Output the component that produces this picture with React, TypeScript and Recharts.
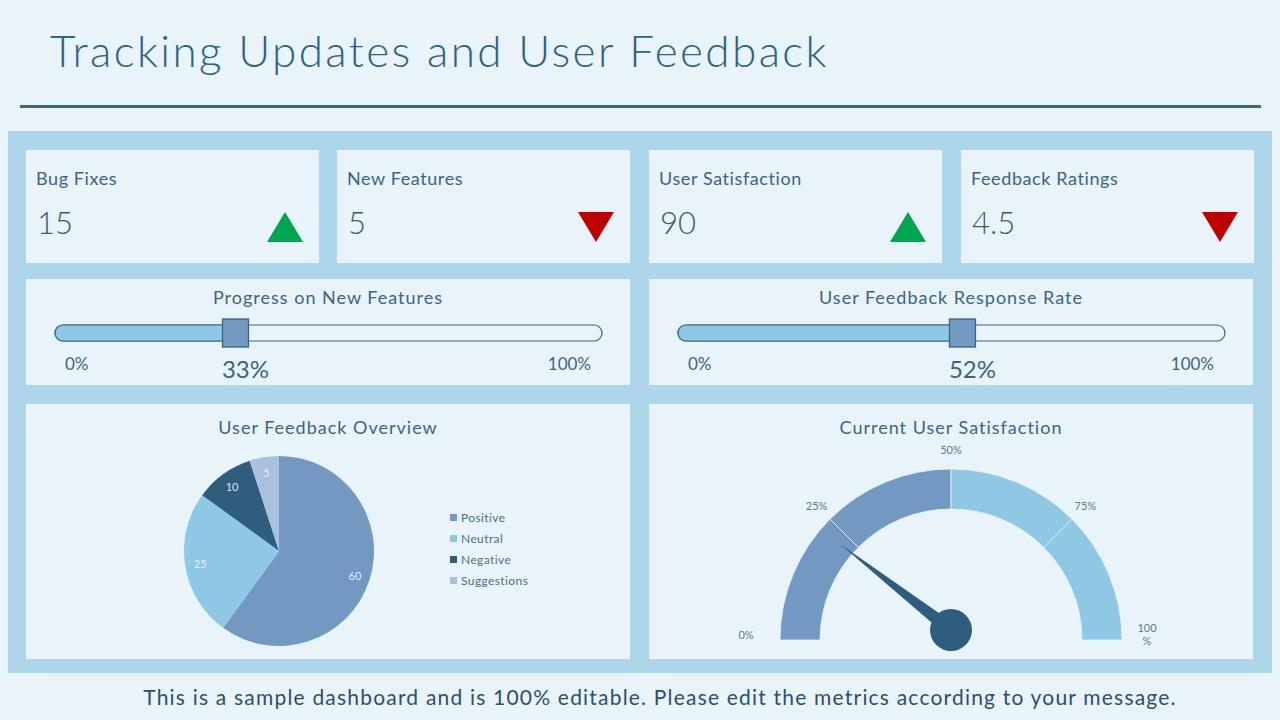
import { BarChart, Bar, XAxis, YAxis, PieChart, Pie, Cell, Legend, Rectangle } from "recharts";

const kpiLabels = ["Bug Fixes", "New Features", "User Satisfaction", "Feedback Ratings"];
const kpiValues = ["15", "5", "90", "4.5"];
const kpiTrends = ["up", "down", "up", "down"];

const progressTitles = ["Progress on New Features", "User Feedback Response Rate"];
const progressValues = [33, 52];

const feedbackCategories = ["Positive", "Neutral", "Negative", "Suggestions"];
const feedbackValues = [60, 25, 10, 5];

const gaugeBands = [25, 25, 25, 25];
const gaugeTicks = [0, 25, 50, 75, 100];
const gaugeTickLabels = ["0%", "25%", "50%", "75%", "100\n%"];
const needleValue = 21;

const FONT = "Lato, 'DejaVu Sans', sans-serif";
const BG = "#E8F3FA";
const PANEL = "#AED6EA";
const TEXT = "#3D6580";
const DARK = "#2F5D7E";
const MID = "#7399C2";
const LIGHT = "#8EC8E4";
const PALE = "#A9C1DC";
const feedbackColors = [MID, LIGHT, DARK, PALE];
const gaugeColors = [MID, MID, LIGHT, LIGHT];
const NO_MARGIN = { top: 0, right: 0, bottom: 0, left: 0 };

const card = (left: number, top: number, width: number, height: number): React.CSSProperties => ({
  position: "absolute",
  left,
  top,
  width,
  height,
  background: BG,
});

function Triangle({ dir }: { dir: string }) {
  return (
    <svg width={36} height={30} style={{ position: "absolute", right: 16, top: 62 }}>
      {dir === "up" ? (
        <polygon points="18,0 36,30 0,30" fill="#00A550" />
      ) : (
        <polygon points="0,0 36,0 18,30" fill="#C00000" />
      )}
    </svg>
  );
}

function ProgressHandle(props: any) {
  const { x, y, width, height } = props;
  const hx = x + width;
  return (
    <g>
      <Rectangle x={x} y={y} width={width} height={height} fill={LIGHT} stroke={TEXT} strokeWidth={1.2} radius={[8, 0, 0, 8]} />
      <rect x={hx - 13} y={y - 6} width={26} height={28} fill={MID} stroke={TEXT} strokeWidth={1.3} />
    </g>
  );
}

function ProgressCard({ left, title, value }: { left: number; title: string; value: number }) {
  const trackLeft = 29;
  const trackWidth = 547;
  return (
    <div style={card(left, 279, 604, 106)}>
      <div style={{ position: "absolute", top: 7, width: "100%", textAlign: "center", fontSize: 18, color: TEXT, letterSpacing: 1 }}>
        {title}
      </div>
      <div style={{ position: "absolute", left: 0, top: 34 }}>
        <BarChart
          width={604}
          height={40}
          layout="vertical"
          data={[{ name: title, value }]}
          margin={{ top: 0, right: 604 - trackLeft - trackWidth, bottom: 0, left: trackLeft }}
        >
          <XAxis type="number" domain={[0, 100]} hide />
          <YAxis type="category" dataKey="name" hide />
          <Bar
            dataKey="value"
            barSize={16}
            isAnimationActive={false}
            background={{ fill: BG, stroke: TEXT, strokeWidth: 1.2, radius: 8 } as any}
            shape={ProgressHandle}
          />
        </BarChart>
      </div>
      <div style={{ position: "absolute", left: 39, top: 74, fontSize: 17, color: TEXT }}>0%</div>
      <div style={{ position: "absolute", right: 39, top: 74, fontSize: 17, color: TEXT }}>100%</div>
      <div
        style={{
          position: "absolute",
          left: trackLeft + (value / 100) * trackWidth + 10,
          top: 75,
          transform: "translateX(-50%)",
          fontSize: 24,
          color: TEXT,
        }}
      >
        {value}%
      </div>
    </div>
  );
}

const renderPieLabel = (p: any) => {
  const RAD = Math.PI / 180;
  const r = p.outerRadius * 0.84;
  const x = p.cx + r * Math.cos(-p.midAngle * RAD);
  const y = p.cy + r * Math.sin(-p.midAngle * RAD);
  return (
    <text x={x} y={y} fill="#E8F3FA" fontSize={11} textAnchor="middle" dominantBaseline="central" fontFamily={FONT} opacity={0.9}>
      {p.value}
    </text>
  );
};

const renderNeedle = (p: any) => {
  if (p.index !== 0) return null;
  const RAD = Math.PI / 180;
  const a = (p.endAngle ?? 180 - p.percent * 180) * RAD;
  const len = 140;
  const w = 7;
  const tx = p.cx + len * Math.cos(a);
  const ty = p.cy - len * Math.sin(a);
  const bx1 = p.cx + w * Math.sin(a);
  const by1 = p.cy + w * Math.cos(a);
  const bx2 = p.cx - w * Math.sin(a);
  const by2 = p.cy - w * Math.cos(a);
  return (
    <g>
      <polygon points={`${tx},${ty} ${bx1},${by1} ${bx2},${by2}`} fill={DARK} />
      <circle cx={p.cx} cy={p.cy} r={21} fill={DARK} />
    </g>
  );
};

export default function App() {
  const feedbackData = feedbackCategories.map((name, i) => ({ name, value: feedbackValues[i] }));
  const gaugeData = gaugeBands.map((value, i) => ({ name: `band${i}`, value }));
  const needleData = [{ value: needleValue }, { value: 100 - needleValue }];
  const gcx = 302;
  const gcy = 236;

  return (
    <div style={{ position: "absolute", left: 0, top: 0, width: 1280, height: 720, background: BG, fontFamily: FONT, overflow: "hidden" }}>
      <div style={{ position: "absolute", left: 50, top: 24, fontSize: 44, color: "#2E6383", letterSpacing: 2.4, fontWeight: 300 }}>
        Tracking Updates and User Feedback
      </div>
      <div style={{ position: "absolute", left: 20, top: 105, width: 1241, height: 3, background: "#3D6580" }} />
      <div style={{ position: "absolute", left: 8, top: 131, width: 1264, height: 542, background: PANEL }} />

      {kpiLabels.map((label, i) => (
        <div key={label} style={card([26, 337, 649, 961][i], 150, 293, 113)}>
          <div style={{ position: "absolute", left: 10, top: 17, fontSize: 18, color: TEXT, letterSpacing: 0.6 }}>{label}</div>
          <div style={{ position: "absolute", left: 11, top: 53, fontSize: 31, color: "#3D5A70", fontWeight: 300 }}>{kpiValues[i]}</div>
          <Triangle dir={kpiTrends[i]} />
        </div>
      ))}

      {progressTitles.map((t, i) => (
        <ProgressCard key={t} left={[26, 649][i]} title={t} value={progressValues[i]} />
      ))}

      <div style={card(26, 404, 604, 255)}>
        <div style={{ position: "absolute", top: 12, width: "100%", textAlign: "center", fontSize: 18, color: TEXT, letterSpacing: 1 }}>
          User Feedback Overview
        </div>
        <PieChart width={604} height={255} margin={NO_MARGIN}>
          <Pie
            data={feedbackData}
            dataKey="value"
            nameKey="name"
            cx={253}
            cy={147}
            outerRadius={95}
            startAngle={90}
            endAngle={-270}
            stroke="none"
            label={renderPieLabel}
            labelLine={false}
            isAnimationActive={false}
          >
            {feedbackData.map((d, i) => (
              <Cell key={d.name} fill={feedbackColors[i]} />
            ))}
          </Pie>
          <Legend
            layout="vertical"
            iconType="square"
            iconSize={7}
            itemSorter={null as any}
            wrapperStyle={{ position: "absolute", left: 424, top: 102, width: 120 }}
            formatter={(v: string) => (
              <span style={{ color: "#4F6F86", fontSize: 12, lineHeight: "19px", letterSpacing: 0.4 }}>{v}</span>
            )}
          />
        </PieChart>
      </div>

      <div style={card(649, 404, 604, 255)}>
        <div style={{ position: "absolute", top: 12, width: "100%", textAlign: "center", fontSize: 18, color: TEXT, letterSpacing: 1 }}>
          Current User Satisfaction
        </div>
        <PieChart width={604} height={255} margin={NO_MARGIN}>
          <Pie
            data={gaugeData}
            dataKey="value"
            cx={gcx}
            cy={gcy}
            innerRadius={131}
            outerRadius={171}
            startAngle={180}
            endAngle={0}
            stroke={BG}
            strokeWidth={0.8}
            isAnimationActive={false}
          >
            {gaugeData.map((d, i) => (
              <Cell key={d.name} fill={gaugeColors[i]} />
            ))}
          </Pie>
          <Pie
            data={needleData}
            dataKey="value"
            cx={gcx}
            cy={gcy - 10}
            innerRadius={0}
            outerRadius={140}
            startAngle={180}
            endAngle={0}
            fill="none"
            stroke="none"
            label={renderNeedle}
            labelLine={false}
            isAnimationActive={false}
          />
        </PieChart>
        {gaugeTicks.map((t, i) => {
          const a = ((180 - t * 1.8) * Math.PI) / 180;
          const r = t === 0 ? 205 : t === 100 ? 196 : 190;
          const x = gcx + r * Math.cos(a);
          const y = gcy - r * Math.sin(a);
          return (
            <div
              key={t}
              style={{
                position: "absolute",
                left: x,
                top: t === 0 ? y - 12 : t === 100 ? y - 19 : y - 7,
                transform: "translateX(-50%)",
                fontSize: 11,
                lineHeight: "13px",
                color: "#5C7A90",
                whiteSpace: "pre",
                textAlign: "center",
              }}
            >
              {gaugeTickLabels[i]}
            </div>
          );
        })}
      </div>

      <div
        style={{
          position: "absolute",
          left: 40,
          top: 684,
          width: 1240,
          textAlign: "center",
          fontSize: 21,
          color: "#2E4F6A",
          letterSpacing: 1.2,
        }}
      >
        This is a sample dashboard and is 100% editable. Please edit the metrics according to your message.
      </div>
    </div>
  );
}
